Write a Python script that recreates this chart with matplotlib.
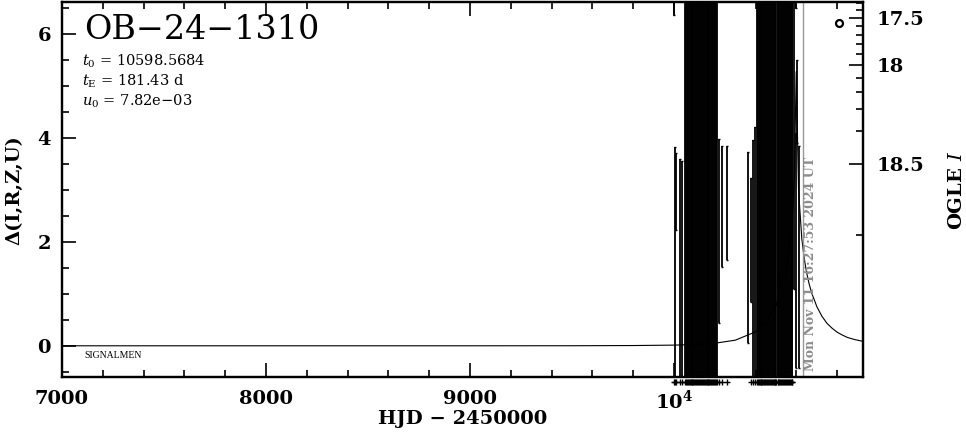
import numpy as np
import matplotlib
matplotlib.use("Agg")
import matplotlib.pyplot as plt
from matplotlib.ticker import FixedLocator, MultipleLocator, FixedFormatter

plt.rcParams['font.family'] = ['DejaVu Serif']
plt.rcParams['mathtext.fontset'] = 'dejavuserif'

# ---------------- data ----------------
event_name = "OB\u221224\u22121310"
t0_text = "10598.5684"
tE_text = "181.43 d"
u0_text = "7.82e\u221203"
now_text = "Mon Nov 11 16:27:53 2024 UT"
now_hjd = 10632

# photometry: HJD-2450000, delta, error
season1_hjd = [10001, 10005, 10010, 10029, 10040,
               10054, 10058, 10063, 10067, 10072, 10077, 10081, 10086, 10090, 10095,
               10100, 10104, 10109, 10113, 10118, 10122, 10127, 10132, 10136, 10141,
               10145, 10150, 10155, 10159, 10164, 10168, 10173, 10178, 10182, 10187,
               10191, 10196, 10201, 10205, 10210,
               10221, 10235, 10260]
season1_delta = [7.00, 1.31, 2.96, 1.30, 1.27,
                 2.8, 3.1, 2.4, 3.3, 2.9, 2.6, 3.4, 2.7, 3.0, 2.5,
                 3.2, 2.8, 3.5, 2.6, 3.0, 2.9, 2.3, 3.1, 2.7, 3.3,
                 2.8, 3.0, 2.6, 3.2, 2.9, 2.5, 3.1, 2.8, 3.4, 2.7,
                 3.0, 2.6, 3.2, 2.9, 2.8,
                 2.20, 2.68, 2.75]
season1_err = [0.64, 2.51, 0.74, 2.30, 2.28,
               4.6, 5.1, 4.4, 5.3, 4.8, 4.5, 5.6, 4.7, 5.0, 4.6,
               5.2, 4.9, 5.4, 4.5, 4.9, 5.0, 4.7, 5.1, 4.6, 5.3,
               4.8, 5.0, 4.5, 5.2, 4.9, 4.6, 5.1, 4.8, 5.4, 4.7,
               5.0, 4.6, 5.2, 4.9, 4.4,
               1.77, 1.17, 1.10]

season2_hjd = [10360, 10375, 10385, 10395,
               10405, 10410, 10414, 10419, 10424, 10428, 10433, 10438, 10442, 10447,
               10451, 10456, 10461, 10465, 10470, 10474, 10479, 10484, 10488, 10493,
               10497, 10502, 10507, 10511, 10516, 10520, 10525, 10530, 10534, 10539,
               10543, 10548, 10553, 10557, 10562, 10566, 10571, 10576, 10580,
               10590, 10598, 10600, 10603, 10610]
season2_delta = [1.89, 2.03, 1.48, 1.60,
                 3.0, 2.7, 3.2, 2.9, 2.5, 3.3, 2.8, 3.1, 2.6, 3.0,
                 2.9, 3.4, 2.7, 3.0, 2.6, 3.2, 2.8, 2.5, 3.1, 2.9,
                 3.3, 2.7, 3.0, 2.8, 3.2, 2.6, 2.9, 3.1, 2.7, 3.4,
                 2.8, 3.0, 2.6, 3.2, 2.9, 2.7, 3.1, 2.8, 3.0,
                 4.50, 7.00, 1.83, 4.70, 1.71]
season2_err = [1.84, 1.19, 2.48, 2.60,
               4.9, 4.6, 5.0, 4.8, 4.5, 5.3, 4.7, 5.0, 4.6, 4.9,
               4.8, 5.4, 4.6, 4.9, 4.5, 5.1, 4.7, 4.4, 5.0, 4.8,
               5.2, 4.6, 4.9, 4.7, 5.1, 4.5, 4.8, 5.0, 4.6, 5.3,
               4.7, 4.9, 4.5, 5.1, 4.8, 4.6, 5.0, 4.7, 4.9,
               3.40, 0.50, 2.26, 0.80, 2.14]

# model light curve
model_hjd = [7000, 9000, 9500, 9800, 10000, 10100, 10200, 10300, 10400, 10450,
             10500, 10550, 10580, 10590, 10598.6, 10610, 10626, 10638, 10650,
             10662, 10675, 10700, 10725, 10750, 10775, 10800, 10825, 10850,
             10885, 10926]
model_delta = [0.0, 0.0, 0.001, 0.005, 0.013, 0.024, 0.049, 0.108, 0.269, 0.447,
               0.773, 1.459, 2.475, 3.30, 5.27, 3.00, 2.06, 1.675, 1.40,
               1.189, 1.01, 0.75, 0.566, 0.43, 0.336, 0.26, 0.206, 0.16,
               0.120, 0.085]

marker_hjd = [10809]
marker_delta = [6.21]

# right axis (OGLE I) ticks
mag_major = [17.5, 18.0, 18.5]
mag_major_labels = ["17.5", "18", "18.5"]
mag_minor = [17.3, 17.4, 17.6, 17.7, 17.8, 17.9, 18.1, 18.2, 18.3, 18.4, 18.6]

x_major = [7000, 8000, 9000, 10000]
x_major_labels = ["7000", "8000", "9000", r"$\mathbf{10^4}$"]
y_major = [0, 2, 4, 6]


def mag_to_delta(m):
    m = np.asarray(m, dtype=float)
    flux = 10 ** (-0.4 * (m - 17.5))
    return 2.5 * np.log10(flux - 0.349) + 6.766


# ---------------- figure ----------------
W, H = 966, 434
fig = plt.figure(figsize=(W / 100, H / 100), dpi=100)
L, R, T, B = 62, 863, 2, 377
ax = fig.add_axes([L / W, 1 - B / H, (R - L) / W, (B - T) / H])
ax.set_xlim(7000, 10926)
ax.set_ylim(-0.6, 6.61)

for s in ax.spines.values():
    s.set_linewidth(1.6)

hjd_all = season1_hjd + season2_hjd
ax.errorbar(season1_hjd, season1_delta, yerr=season1_err, fmt='none',
            ecolor='black', elinewidth=1.3, capsize=1.0, capthick=1.0)
ax.errorbar(season2_hjd, season2_delta, yerr=season2_err, fmt='none',
            ecolor='black', elinewidth=1.3, capsize=1.0, capthick=1.0)

ax.plot(model_hjd, model_delta, color='black', lw=0.8)

# coverage markers below the axis
row_hjd = [h for h in hjd_all if 9990 <= h <= 10585 and not 10355 < h < 10370]
ax.plot(row_hjd, np.full(len(row_hjd), -0.70), '+', color='black', ms=5,
        mew=1.0, clip_on=False)

ax.plot(marker_hjd, marker_delta, 'o', mfc='white', mec='black', ms=5, mew=1.6)

ax.axvline(now_hjd, color='#999999', lw=1.0)

ax.xaxis.set_major_locator(FixedLocator(x_major))
ax.xaxis.set_major_formatter(FixedFormatter(x_major_labels))
ax.xaxis.set_minor_locator(MultipleLocator(200))
ax.yaxis.set_major_locator(FixedLocator(y_major))
ax.yaxis.set_minor_locator(MultipleLocator(0.5))
ax.tick_params(which='both', direction='in', top=True, right=False,
               width=1.2)
ax.tick_params(which='major', length=10)
ax.tick_params(which='minor', length=5)
ax.tick_params(axis='x', which='major', pad=9, labelsize=14)
ax.tick_params(axis='y', which='major', pad=8, labelsize=14)
for lab in ax.get_xticklabels() + ax.get_yticklabels():
    lab.set_fontweight('bold')

ax2 = ax.twinx()
ax2.set_ylim(ax.get_ylim())
ax2.yaxis.set_major_locator(FixedLocator(mag_to_delta(mag_major)))
ax2.yaxis.set_major_formatter(FixedFormatter(mag_major_labels))
ax2.yaxis.set_minor_locator(FixedLocator(mag_to_delta(mag_minor)))
ax2.tick_params(which='both', direction='in', width=1.2)
ax2.tick_params(which='major', length=10, pad=10, labelsize=14)
ax2.tick_params(which='minor', length=5)
for lab in ax2.get_yticklabels():
    lab.set_fontweight('bold')
for s in ax2.spines.values():
    s.set_linewidth(1.6)

# texts
def fx(px):
    return px / W

def fy(py):
    return 1 - py / H

fig.text(fx(84), fy(39), event_name, fontsize=24, va='baseline', ha='left')
fig.text(fx(82), fy(66), r"$t_{\rm 0}$ = " + t0_text, fontsize=10.5, va='baseline')
fig.text(fx(82), fy(86), r"$t_{\rm E}$ = " + tE_text, fontsize=10.5, va='baseline')
fig.text(fx(82), fy(106), r"$u_{\rm 0}$ = " + u0_text, fontsize=10.5, va='baseline')
fig.text(fx(84), fy(358), "SIGNALMEN", fontsize=7, family='Liberation Serif',
         va='baseline')
fig.text(fx(811), fy(264), now_text, rotation=90, color='#8c8c8c',
         fontsize=9, fontweight='bold', ha='center', va='center')

fig.text(fx(463), fy(419), "HJD \u2212 2450000", fontsize=14, fontweight='bold',
         ha='center', va='center')
fig.text(fx(14), fy(190), "\u0394(I,R,Z,U)", fontsize=14, fontweight='bold',
         rotation=90, ha='center', va='center')
fig.text(fx(957), fy(190), r"OGLE $I$", fontsize=14, fontweight='bold',
         rotation=90, ha='center', va='center')

fig.savefig("out.png", dpi=100)
